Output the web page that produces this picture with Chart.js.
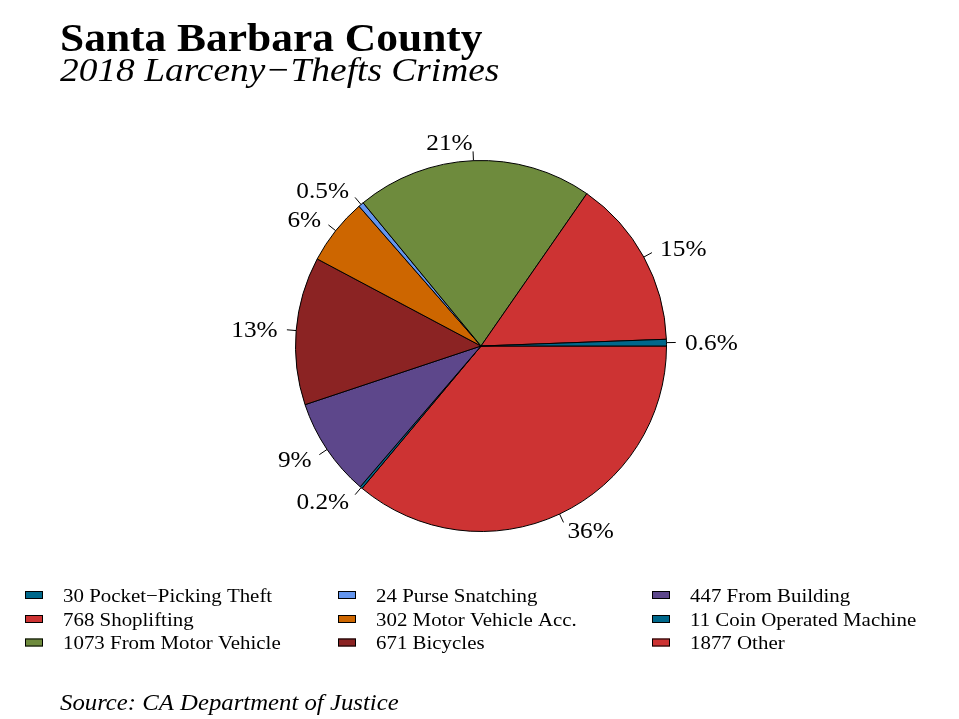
<!DOCTYPE html>
<html>
<head>
<meta charset="utf-8">
<script src="https://cdn.jsdelivr.net/npm/chart.js@4"></script>
<style>
  body { margin: 0; background: #fff; }
  canvas { display: block; }
</style>
</head>
<body>
<canvas id="pie" width="959" height="719"></canvas>
<script>
// slice order as in the legend (counterclockwise from 3 o'clock in the original)
const categories = ['Pocket\u2212Picking Theft', 'Shoplifting', 'From Motor Vehicle', 'Purse Snatching',
  'Motor Vehicle Acc.', 'Bicycles', 'From Building', 'Coin Operated Machine', 'Other'];
const counts = [30, 768, 1073, 24, 302, 671, 447, 11, 1877];
const colors = ['#00688B', '#CD3333', '#6E8B3D', '#6495ED', '#CD6600', '#8B2323', '#5D478B', '#00688B', '#CD3333'];

const total = counts.reduce((a, b) => a + b, 0);
const pctLabels = counts.map(v => {
  const p = v / total * 100;
  return (p < 1 ? p.toFixed(1) : Math.round(p)) + '%';
});

// Chart.js draws clockwise, so feed it reversed
const rev = a => a.slice().reverse();

const serif = '"Liberation Serif", "Times New Roman", serif';
const SX = 1.1; // the original's Times is set a little wider

function text(ctx, str, x, y, font, align) {
  ctx.save();
  ctx.font = font;
  ctx.textAlign = align || 'left';
  ctx.translate(x, y);
  ctx.scale(SX, 1);
  ctx.fillText(str, 0, 0);
  ctx.restore();
}

const decor = {
  id: 'decor',
  afterDraw(chart) {
    const ctx = chart.ctx;
    const meta = chart.getDatasetMeta(0);
    const labels = rev(pctLabels);
    ctx.save();
    ctx.fillStyle = '#000';
    ctx.strokeStyle = '#000';
    ctx.lineWidth = 1;

    // percent labels with ticks
    ctx.textBaseline = 'middle';
    meta.data.forEach((arc, i) => {
      const { x, y, startAngle, endAngle, outerRadius } = arc.getProps(['x', 'y', 'startAngle', 'endAngle', 'outerRadius'], true);
      const mid = (startAngle + endAngle) / 2;
      const c = Math.cos(mid), s = Math.sin(mid);
      ctx.beginPath();
      ctx.moveTo(x + c * outerRadius, y + s * outerRadius);
      ctx.lineTo(x + c * outerRadius * 1.05, y + s * outerRadius * 1.05);
      ctx.stroke();
      text(ctx, labels[i], x + c * outerRadius * 1.1, y + s * outerRadius * 1.1 + 1.5,
        '23px ' + serif, c < 0 ? 'right' : 'left');
    });

    // titles
    ctx.textBaseline = 'alphabetic';
    text(ctx, 'Santa Barbara County', 60, 51, 'bold 39.5px ' + serif);
    text(ctx, '2018 Larceny\u2212Thefts Crimes', 60, 81, 'italic 34px ' + serif);
    text(ctx, 'Source: CA Department of Justice', 60, 710, 'italic 22.5px ' + serif);

    // legend, three columns filled top to bottom
    const colX = [25, 338, 652];
    const rowY = [595, 619, 642.5];
    ctx.textBaseline = 'middle';
    categories.forEach((name, i) => {
      const cx = colX[Math.floor(i / 3)];
      const cy = rowY[i % 3];
      ctx.fillStyle = colors[i];
      ctx.fillRect(cx, cy - 4, 18, 8);
      ctx.strokeRect(cx + 0.5, cy - 3.5, 17, 7);
      ctx.fillStyle = '#000';
      text(ctx, counts[i] + ' ' + name, cx + 38, cy + 2, '19px ' + serif);
    });
    ctx.restore();
  }
};

new Chart(document.getElementById('pie'), {
  type: 'pie',
  data: {
    labels: rev(categories),
    datasets: [{
      data: rev(counts),
      backgroundColor: rev(colors),
      borderColor: '#000',
      borderWidth: 1,
      hoverOffset: 0
    }]
  },
  options: {
    responsive: false,
    devicePixelRatio: 1,
    animation: false,
    rotation: 90,
    layout: { padding: { left: 295, right: 292, top: 160, bottom: 187 } },
    plugins: { legend: { display: false }, tooltip: { enabled: false } },
    elements: { arc: { borderJoinStyle: 'miter' } }
  },
  plugins: [decor]
});
</script>
</body>
</html>
